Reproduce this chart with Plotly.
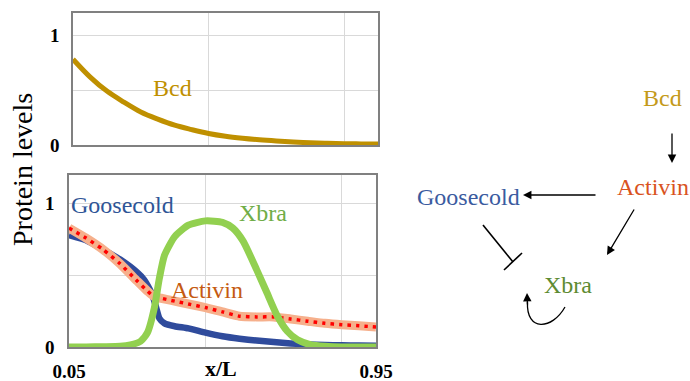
import plotly.graph_objects as go

# ---------------- data ----------------
bcd_x = [0.05, 0.10, 0.15, 0.20, 0.25, 0.30, 0.35, 0.40, 0.45, 0.50, 0.55, 0.60,
         0.65, 0.70, 0.75, 0.80, 0.85, 0.90, 0.95]
bcd_y = [0.78, 0.62, 0.49, 0.39, 0.30, 0.235, 0.18, 0.14, 0.105, 0.08, 0.062, 0.048,
         0.037, 0.028, 0.021, 0.016, 0.012, 0.01, 0.008]

gsc_x = [0.05, 0.10, 0.15, 0.20, 0.25, 0.27, 0.285, 0.295, 0.305, 0.315, 0.33, 0.36,
         0.40, 0.45, 0.50, 0.55, 0.60, 0.65, 0.70, 0.75, 0.80, 0.85, 0.90, 0.95]
gsc_y = [0.78, 0.745, 0.68, 0.61, 0.52, 0.47, 0.41, 0.36, 0.28, 0.20, 0.165, 0.145,
         0.13, 0.10, 0.075, 0.058, 0.045, 0.035, 0.025, 0.018, 0.014, 0.012, 0.01, 0.009]

act_x = [0.05, 0.10, 0.15, 0.20, 0.25, 0.28, 0.30, 0.32, 0.35, 0.40, 0.45, 0.50,
         0.55, 0.60, 0.65, 0.70, 0.75, 0.80, 0.85, 0.90, 0.95]
act_y = [0.83, 0.76, 0.68, 0.58, 0.46, 0.39, 0.35, 0.34, 0.325, 0.30, 0.275, 0.245,
         0.215, 0.21, 0.21, 0.195, 0.18, 0.165, 0.155, 0.148, 0.14]

xbra_x = [0.05, 0.10, 0.15, 0.20, 0.23, 0.26, 0.28, 0.30, 0.315, 0.33, 0.36, 0.40,
          0.45, 0.50, 0.53, 0.56, 0.60, 0.63, 0.66, 0.69, 0.72, 0.76, 0.80, 0.85, 0.95]
xbra_y = [0.0, 0.0, 0.002, 0.005, 0.015, 0.04, 0.10, 0.27, 0.48, 0.64, 0.77, 0.85,
          0.88, 0.87, 0.83, 0.74, 0.54, 0.38, 0.22, 0.11, 0.05, 0.015, 0.005, 0.0, 0.0]

x_tickvals = [0.05, 0.45, 0.85, 0.95]
x_ticktext = ["<b>0.05</b>", "", "", "<b>0.95</b>"]
y_tickvals = [0, 0.5, 1]
y_ticktext = ["<b>0</b>", "", "<b>1</b>"]

# ---------------- colours ----------------
C_BCD = "#BF9000"
C_GSC = "#2F4B9C"
C_ACT = "#F6B08C"
C_DOT = "#FF0000"
C_XBRA = "#92D050"
FONT = "Liberation Serif, Times New Roman, serif"

W, H = 690, 381
def px(x):
    return x / W
def py(y):
    return 1 - y / H

fig = go.Figure()
fig.add_trace(go.Scatter(x=bcd_x, y=bcd_y, mode="lines", line=dict(color=C_BCD, width=5, shape="spline"),
                         xaxis="x", yaxis="y", showlegend=False))
fig.add_trace(go.Scatter(x=gsc_x, y=gsc_y, mode="lines", line=dict(color=C_GSC, width=6.5, shape="spline", smoothing=0.5),
                         xaxis="x2", yaxis="y2", showlegend=False))
fig.add_trace(go.Scatter(x=act_x, y=act_y, mode="lines", line=dict(color=C_ACT, width=9, shape="spline", smoothing=0.5),
                         xaxis="x2", yaxis="y2", showlegend=False))
fig.add_trace(go.Scatter(x=act_x, y=act_y, mode="lines", line=dict(color=C_DOT, width=3.5, dash="3.5px,5px", shape="spline", smoothing=0.5),
                         xaxis="x2", yaxis="y2", showlegend=False))
fig.add_trace(go.Scatter(x=xbra_x, y=xbra_y, mode="lines", line=dict(color=C_XBRA, width=7, shape="spline", smoothing=0.6),
                         xaxis="x2", yaxis="y2", showlegend=False))

axis_common = dict(showline=True, mirror=True, linecolor="#808080", linewidth=1.5,
                   gridcolor="#D9D9D9", gridwidth=1, zeroline=False, ticks="",
                   automargin=False, fixedrange=True)

fig.update_layout(
    width=W, height=H, margin=dict(l=0, r=0, t=0, b=0),
    paper_bgcolor="white", plot_bgcolor="white",
    font=dict(family=FONT, color="black"),
    xaxis=dict(domain=[px(73), px(378)], range=[0.05, 0.95], tickvals=x_tickvals,
               showticklabels=False, anchor="y", **axis_common),
    yaxis=dict(domain=[py(145), py(13)], range=[0, 1.2], tickvals=y_tickvals, ticktext=y_ticktext,
               tickfont=dict(size=19, family=FONT), ticklabelstandoff=8, anchor="x", **axis_common),
    xaxis2=dict(domain=[px(69), px(376)], range=[0.05, 0.95], tickvals=x_tickvals, ticktext=x_ticktext,
                tickfont=dict(size=19, family=FONT), ticklabelstandoff=6, anchor="y2", **axis_common),
    yaxis2=dict(domain=[py(347), py(175)], range=[0, 1.2], tickvals=y_tickvals, ticktext=y_ticktext,
                tickfont=dict(size=19, family=FONT), ticklabelstandoff=9, anchor="x2", **axis_common),
)

def label(text, x, y, color, size=24, angle=0):
    fig.add_annotation(text=text, x=px(x), y=py(y), xref="paper", yref="paper",
                       showarrow=False, xanchor="center", yanchor="middle", textangle=angle,
                       font=dict(family=FONT, size=size, color=color))

# plot labels
label("Bcd", 172, 88, C_BCD)
label("Goosecold", 122, 205, "#2E5597")
label("Xbra", 263, 213, "#70AD47")
label("Activin", 207, 290, "#C55A11")
label("Protein levels", 22, 170, "black", size=28, angle=-90)
label("<b>x/L</b>", 221, 368, "black", size=22)

# network diagram labels
label("Bcd", 662, 98, "#C49A1A")
label("Activin", 653, 187, "#D9531E")
label("Goosecold", 468, 197, "#3A5BA0")
label("Xbra", 568, 285, "#5E8B32")

def arrow(hx, hy, tx, ty):
    fig.add_annotation(x=px(hx), y=py(hy), xref="paper", yref="paper", text="",
                       showarrow=True, ax=tx - hx, ay=ty - hy, axref="pixel", ayref="pixel",
                       arrowhead=2, arrowsize=1.3, arrowwidth=1.3, arrowcolor="black")

arrow(672, 163, 672, 132)   # Bcd -> Activin
arrow(523, 195, 597, 195)   # Activin -> Goosecold
arrow(607, 255, 635, 208)   # Activin -> Xbra
arrow(527, 293, 527.5, 306) # self-loop head

# inhibition Goosecold -| Xbra
fig.add_shape(type="line", xref="paper", yref="paper", x0=px(483), y0=py(225), x1=px(513), y1=py(262),
              line=dict(color="black", width=1.6))
fig.add_shape(type="line", xref="paper", yref="paper", x0=px(504), y0=py(270), x1=px(522), y1=py(253),
              line=dict(color="black", width=1.6))
# self loop curve
path = "M {:.5f},{:.5f} C {:.5f},{:.5f} {:.5f},{:.5f} {:.5f},{:.5f}".format(
    px(565), py(307), px(552), py(330), px(526), py(332), px(527.5), py(302))
fig.add_shape(type="path", xref="paper", yref="paper", path=path, line=dict(color="black", width=1.3))

fig.write_html("out.html")
